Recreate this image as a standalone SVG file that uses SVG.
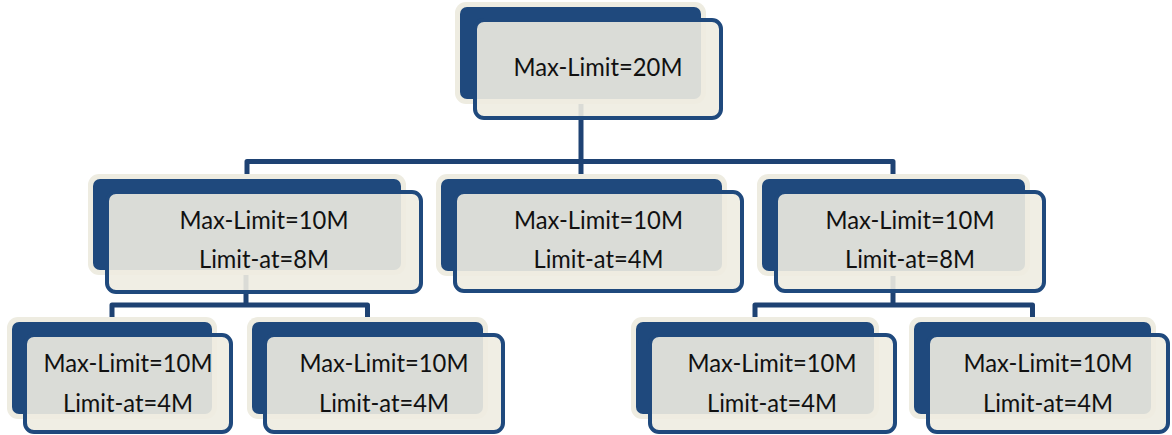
<svg xmlns="http://www.w3.org/2000/svg" width="1172" height="435" viewBox="0 0 1172 435">
<style>
.bo{fill:#EEECE1}
.bk{fill:#1F497D}
.fr{fill:#EEECE1;fill-opacity:0.9;stroke:#1F497D;stroke-width:4}
.cn{fill:none;stroke:#1E4273;stroke-width:5;stroke-linejoin:round}
.t{font-family:Lato,"Open Sans","Liberation Sans",sans-serif;font-size:25px;fill:#111;text-anchor:middle}
</style>
<rect width="1172" height="435" fill="#FFFFFF"/>
<g id="connectors">
<path class="cn" d="M581,99 V161.5"/>
<path class="cn" d="M247,177 V161.5 H893 V177"/>
<path class="cn" d="M581,161.5 V177"/>
<path class="cn" d="M246,270 V305"/>
<path class="cn" d="M112,319 V305 H367.5 V319"/>
<path class="cn" d="M893,271 V305"/>
<path class="cn" d="M755,319 V305 H1032.5 V319"/>
</g>
<g id="node-root">
<rect class="bo" x="455" y="2" width="251" height="102" rx="11"/>
<rect class="bk" x="460" y="7" width="241" height="92" rx="7"/>
<rect class="fr" x="475" y="20" width="246" height="98" rx="9"/>
<text class="t" x="598" y="76" textLength="169" lengthAdjust="spacingAndGlyphs">Max-Limit=20M</text>
</g>
<g id="node-mid-left">
<rect class="bo" x="88" y="174" width="318" height="101" rx="11"/>
<rect class="bk" x="93" y="179" width="308" height="91" rx="7"/>
<rect class="fr" x="107" y="192" width="314" height="100" rx="9"/>
<text class="t" x="264" y="229" textLength="169" lengthAdjust="spacingAndGlyphs">Max-Limit=10M</text>
<text class="t" x="264" y="268" textLength="130" lengthAdjust="spacingAndGlyphs">Limit-at=8M</text>
</g>
<g id="node-mid-center">
<rect class="bo" x="436" y="174" width="291" height="102" rx="11"/>
<rect class="bk" x="441" y="179" width="281" height="92" rx="7"/>
<rect class="fr" x="455" y="192" width="287" height="99" rx="9"/>
<text class="t" x="598.5" y="229" textLength="169" lengthAdjust="spacingAndGlyphs">Max-Limit=10M</text>
<text class="t" x="598.5" y="268" textLength="130" lengthAdjust="spacingAndGlyphs">Limit-at=4M</text>
</g>
<g id="node-mid-right">
<rect class="bo" x="757" y="174" width="273" height="102" rx="11"/>
<rect class="bk" x="762" y="179" width="263" height="92" rx="7"/>
<rect class="fr" x="776" y="192" width="268" height="99" rx="9"/>
<text class="t" x="910" y="229" textLength="169" lengthAdjust="spacingAndGlyphs">Max-Limit=10M</text>
<text class="t" x="910" y="268" textLength="130" lengthAdjust="spacingAndGlyphs">Limit-at=8M</text>
</g>
<g id="node-bottom-1">
<rect class="bo" x="7" y="317" width="210" height="102" rx="11"/>
<rect class="bk" x="12" y="322" width="200" height="92" rx="7"/>
<rect class="fr" x="25" y="335" width="206" height="97" rx="9"/>
<text class="t" x="128" y="372" textLength="169" lengthAdjust="spacingAndGlyphs">Max-Limit=10M</text>
<text class="t" x="128" y="412" textLength="130" lengthAdjust="spacingAndGlyphs">Limit-at=4M</text>
</g>
<g id="node-bottom-2">
<rect class="bo" x="247" y="317" width="241" height="102" rx="11"/>
<rect class="bk" x="252" y="322" width="231" height="92" rx="7"/>
<rect class="fr" x="265" y="335" width="238" height="97" rx="9"/>
<text class="t" x="384" y="372" textLength="169" lengthAdjust="spacingAndGlyphs">Max-Limit=10M</text>
<text class="t" x="384" y="412" textLength="130" lengthAdjust="spacingAndGlyphs">Limit-at=4M</text>
</g>
<g id="node-bottom-3">
<rect class="bo" x="631" y="317" width="248" height="102" rx="11"/>
<rect class="bk" x="636" y="322" width="238" height="92" rx="7"/>
<rect class="fr" x="650" y="335" width="245" height="97" rx="9"/>
<text class="t" x="772" y="372" textLength="169" lengthAdjust="spacingAndGlyphs">Max-Limit=10M</text>
<text class="t" x="772" y="412" textLength="130" lengthAdjust="spacingAndGlyphs">Limit-at=4M</text>
</g>
<g id="node-bottom-4">
<rect class="bo" x="909" y="317" width="247" height="102" rx="11"/>
<rect class="bk" x="914" y="322" width="237" height="92" rx="7"/>
<rect class="fr" x="928" y="335" width="240" height="97" rx="9"/>
<text class="t" x="1048" y="372" textLength="169" lengthAdjust="spacingAndGlyphs">Max-Limit=10M</text>
<text class="t" x="1048" y="412" textLength="130" lengthAdjust="spacingAndGlyphs">Limit-at=4M</text>
</g>
</svg>
